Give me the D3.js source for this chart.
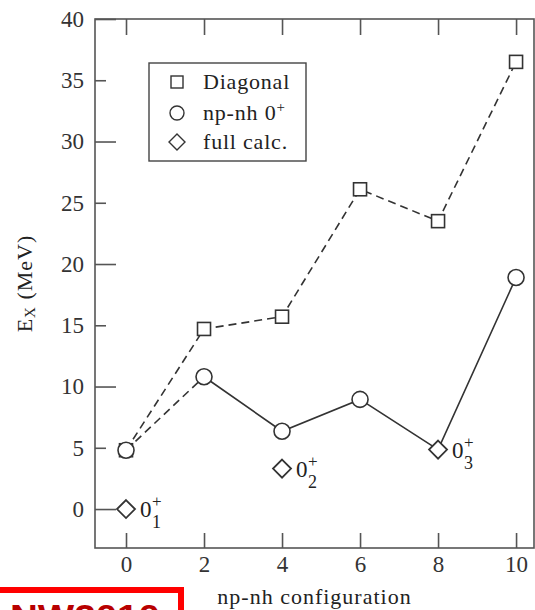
<!DOCTYPE html>
<html>
<head>
<meta charset="utf-8">
<script src="https://cdn.jsdelivr.net/npm/d3@7"></script>
<style>
  body { margin: 0; background: #fff; }
  svg { display: block; font-family: "Liberation Serif", "Times New Roman", serif; }
  .axis path, .axis line { stroke: #555; stroke-width: 1.6; }
  .axis text { font-family: "Liberation Serif", "Times New Roman", serif; font-size: 23px; fill: #333; }
</style>
</head>
<body>
<div id="chart"></div>
<script>
// np-nh configuration (x) and excitation energies (MeV)
var configs = [0, 2, 4, 6, 8, 10];
var diagonal = [4.8, 14.7, 15.7, 26.1, 23.5, 36.5];
var npnh = [4.8, 10.8, 6.35, 8.95, 4.85, 18.9];
var npnhMarked = [0, 2, 4, 6, 10];          // at 8 the full calc. diamond sits on it
var fullX = [0, 4, 8];
var fullE = [0, 3.3, 4.85];
var fullLabels = ["1", "2", "3"];
var xTicks = [0, 2, 4, 6, 8, 10];
var yTicks = [0, 5, 10, 15, 20, 25, 30, 35, 40];
var legendNames = ["Diagonal", "np-nh 0", "full calc."];

var W = 535, H = 610;
var pLeft = 95, pRight = 534, pTop = 19, pBottom = 548;

var svg = d3.select('#chart').append('svg')
    .attr('width', W).attr('height', H);

var x = d3.scaleLinear().domain([-0.795, 10.46]).range([pLeft, pRight]);
var y = d3.scaleLinear().domain([-3.18, 40]).range([pBottom, pTop]);

// frame + axes
svg.append('rect')
    .attr('x', pLeft).attr('y', pTop)
    .attr('width', pRight - pLeft).attr('height', pBottom - pTop)
    .attr('fill', 'none').attr('stroke', '#555').attr('stroke-width', 1.6);

svg.append('g').attr('class', 'axis')
    .attr('transform', 'translate(0,' + pBottom + ')')
    .call(d3.axisBottom(x).tickValues(xTicks).tickSize(-15).tickSizeOuter(0).tickPadding(8));

svg.append('g').attr('class', 'axis')
    .attr('transform', 'translate(0,' + pTop + ')')
    .call(d3.axisTop(x).tickValues(xTicks).tickSize(-16).tickSizeOuter(0).tickFormat(''));

svg.append('g').attr('class', 'axis')
    .attr('transform', 'translate(' + pLeft + ',0)')
    .call(d3.axisLeft(y).tickValues(yTicks).tickSize(-11).tickSizeOuter(0).tickPadding(11))
    .selectAll('.tick line')
    .attr('x2', function(d) { return d % 10 === 0 ? 21 : 11; });

svg.selectAll('.axis .domain').remove();

// axis titles
svg.append('text')
    .attr('x', (pLeft + pRight) / 2).attr('y', 604)
    .attr('text-anchor', 'middle')
    .style('font-size', '22px').style('letter-spacing', '1px').attr('fill', '#222')
    .text('np-nh configuration');

var yl = svg.append('text')
    .attr('transform', 'translate(32,' + ((pTop + pBottom) / 2) + ') rotate(-90)')
    .attr('text-anchor', 'middle')
    .style('font-size', '22px').style('letter-spacing', '1px').attr('fill', '#222');
yl.append('tspan').text('E');
yl.append('tspan').attr('dy', 3).style('font-size', '15px').text('X');
yl.append('tspan').attr('dy', -3).text(' (MeV)');

// lines
var pts = function(ys) { return configs.map(function(c, i) { return [x(c), y(ys[i])]; }); };
var line = d3.line();

svg.append('path').attr('d', line(pts(diagonal)))
    .attr('fill', 'none').attr('stroke', '#333').attr('stroke-width', 1.6)
    .attr('stroke-dasharray', '8,5');

var np = pts(npnh);
svg.append('path').attr('d', line(np.slice(0, 2)))
    .attr('fill', 'none').attr('stroke', '#333').attr('stroke-width', 1.6)
    .attr('stroke-dasharray', '8,5');
svg.append('path').attr('d', line(np.slice(1)))
    .attr('fill', 'none').attr('stroke', '#333').attr('stroke-width', 1.6);

// markers
var sq = 13, cr = 8, dm = 9;
svg.selectAll('rect.diag').data(configs).enter().append('rect')
    .attr('class', 'diag')
    .attr('x', function(d, i) { return x(d) - sq / 2; })
    .attr('y', function(d, i) { return y(diagonal[i]) - sq / 2; })
    .attr('width', sq).attr('height', sq)
    .attr('fill', 'white').attr('stroke', '#333').attr('stroke-width', 1.6);

svg.selectAll('circle.npnh').data(npnhMarked).enter().append('circle')
    .attr('class', 'npnh')
    .attr('cx', function(d) { return x(d); })
    .attr('cy', function(d) { return y(npnh[configs.indexOf(d)]); })
    .attr('r', cr)
    .attr('fill', 'white').attr('stroke', '#333').attr('stroke-width', 1.6);

function diamond(cx, cy, r) {
    return 'M' + cx + ',' + (cy - r) + 'L' + (cx + r) + ',' + cy + 'L' + cx + ',' + (cy + r) + 'L' + (cx - r) + ',' + cy + 'Z';
}
svg.selectAll('path.full').data(fullX).enter().append('path')
    .attr('class', 'full')
    .attr('d', function(d, i) { return diamond(x(d), y(fullE[i]), dm); })
    .attr('fill', 'white').attr('stroke', '#333').attr('stroke-width', 1.8);

// 0+_n state labels
var lab = svg.selectAll('g.lab').data(fullX).enter().append('g')
    .attr('class', 'lab')
    .attr('transform', function(d, i) { return 'translate(' + (x(d) + 14) + ',' + y(fullE[i]) + ')'; })
    .attr('fill', '#222');
lab.append('text').attr('x', 0).attr('y', 8).style('font-size', '23px').text('0');
lab.append('text').attr('x', 12).attr('y', -2).style('font-size', '17px').text('+');
lab.append('text').attr('x', 12).attr('y', 19).style('font-size', '18px')
    .text(function(d, i) { return fullLabels[i]; });

// legend
var lg = svg.append('g').attr('transform', 'translate(149,63)');
lg.append('rect').attr('width', 157).attr('height', 98)
    .attr('fill', 'white').attr('stroke', '#444').attr('stroke-width', 1.4);
var rows = [19, 50, 79];
lg.append('rect').attr('x', 28 - 6).attr('y', rows[0] - 6).attr('width', 12).attr('height', 12)
    .attr('fill', 'none').attr('stroke', '#333').attr('stroke-width', 1.4);
lg.append('circle').attr('cx', 28).attr('cy', rows[1]).attr('r', 7)
    .attr('fill', 'none').attr('stroke', '#333').attr('stroke-width', 1.4);
lg.append('path').attr('d', diamond(28, rows[2], 8))
    .attr('fill', 'none').attr('stroke', '#333').attr('stroke-width', 1.4);
lg.selectAll('text.name').data(legendNames).enter().append('text')
    .attr('class', 'name')
    .attr('x', 54).attr('y', function(d, i) { return rows[i] + 7; })
    .style('font-size', '22px').style('letter-spacing', '0.8px').attr('fill', '#222')
    .text(function(d) { return d; })
  .filter(function(d, i) { return i === 1; })
    .append('tspan').attr('dy', -8).style('font-size', '15px').text('+');

// red stamp cut off at the bottom edge
svg.append('rect').attr('x', -10).attr('y', 590).attr('width', 191).attr('height', 40)
    .attr('fill', 'none').attr('stroke', '#ff0000').attr('stroke-width', 6);
svg.append('text').attr('x', 10).attr('y', 628)
    .attr('textLength', 150).attr('lengthAdjust', 'spacingAndGlyphs')
    .style('font-family', '"Liberation Sans", sans-serif').style('font-weight', 'bold')
    .style('font-size', '34px').attr('fill', '#b80000')
    .text('NW2010');
</script>
</body>
</html>
